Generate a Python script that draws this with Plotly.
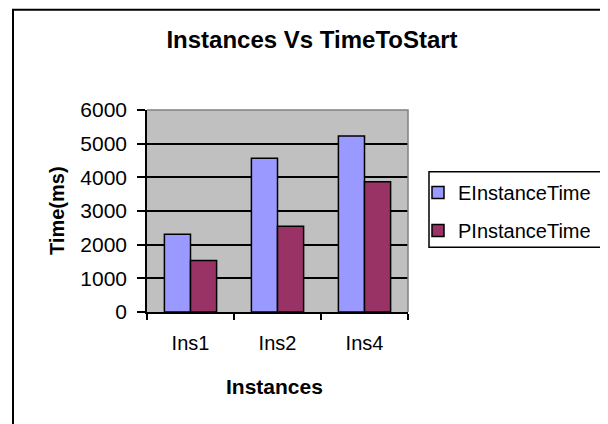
import plotly.graph_objects as go

categories = ["Ins1", "Ins2", "Ins4"]
e_instance_time = [2310, 4570, 5230]
p_instance_time = [1530, 2550, 3870]
y_ticks = [0, 1000, 2000, 3000, 4000, 5000, 6000]

FONT = "Liberation Sans, Arial, sans-serif"

# page has an 8px body margin; figure covers page (8,8)-(608,424)
OFF = 8
W, H = 600, 416
L, R, T, B = 139, 200, 102, 112
PW, PH = W - L - R, H - T - B


def px_x(page_x):
    return (page_x - OFF - L) / PW


def px_y(page_y):
    return (H - B - (page_y - OFF)) / PH


fig = go.Figure()
fig.add_trace(go.Bar(
    name="EInstanceTime", x=categories, y=e_instance_time,
    marker=dict(color="#9999FF", line=dict(color="black", width=1.5)),
    legendgroup="e",
))
fig.add_trace(go.Bar(
    name="PInstanceTime", x=categories, y=p_instance_time,
    marker=dict(color="#993366", line=dict(color="black", width=1.5)),
    legendgroup="p",
))

fig.update_layout(
    width=W, height=H,
    margin=dict(l=L, r=R, t=T, b=B, pad=0, autoexpand=False),
    paper_bgcolor="white",
    plot_bgcolor="#C0C0C0",
    barmode="group",
    bargap=0.4,
    bargroupgap=0,
    font=dict(family=FONT, color="black", size=20),
    title=dict(
        text="<b>Instances Vs TimeToStart</b>",
        font=dict(family=FONT, size=24, color="black"),
        x=(312 - OFF) / W, xanchor="center", xref="container",
        y=1 - (40 - OFF) / H, yanchor="middle", yref="container",
    ),
    showlegend=True,
    legend=dict(
        xref="container", yref="container",
        x=(438 - OFF - 20) / W, xanchor="left",
        y=1 - (173 - OFF) / H, yanchor="top",
        borderwidth=0,
        bgcolor="rgba(0,0,0,0)",
        font=dict(family=FONT, size=20, color="black"),
        tracegroupgap=9,
        traceorder="grouped",
    ),
    xaxis=dict(
        showline=True, linecolor="black", linewidth=1.5,
        ticks="outside", tickson="boundaries", ticklen=6,
        tickcolor="black", tickwidth=1.5,
        showgrid=False,
        tickfont=dict(family=FONT, size=20, color="black"),
        ticklabelstandoff=12,
    ),
    yaxis=dict(
        range=[0, 6000],
        tickvals=y_ticks,
        showline=True, linecolor="black", linewidth=1.5,
        ticks="outside", ticklen=8, tickcolor="black", tickwidth=1.5,
        showgrid=True, gridcolor="black", gridwidth=1.5,
        zeroline=False,
        tickfont=dict(family=FONT, size=21, color="black"),
        ticklabelstandoff=6,
    ),
    annotations=[
        dict(text="<b>Instances</b>", xref="paper", yref="paper",
             x=px_x(274), y=px_y(386), xanchor="center", yanchor="middle",
             showarrow=False, font=dict(family=FONT, size=21, color="black")),
        dict(text="<b>Time(ms)</b>", xref="paper", yref="paper",
             x=px_x(57), y=px_y(211), xanchor="center", yanchor="middle",
             textangle=-90, showarrow=False,
             font=dict(family=FONT, size=20, color="black")),
    ],
    shapes=[
        # grey top and right edges of the plot area
        dict(type="path", xref="paper", yref="paper",
             path="M 0,1 L 1,1 L 1,0",
             line=dict(color="#808080", width=1.5), layer="above"),
        # legend box
        dict(type="rect", xref="paper", yref="paper",
             x0=px_x(429), x1=px_x(601.7), y0=px_y(247.3), y1=px_y(171.7),
             line=dict(color="black", width=1.5), fillcolor="white",
             layer="below"),
        # outer chart border
        dict(type="rect", xref="paper", yref="paper",
             x0=px_x(13), x1=px_x(640), y0=px_y(460), y1=px_y(9.7),
             line=dict(color="black", width=2), layer="above"),
    ],
)

fig.write_html("out.html")
